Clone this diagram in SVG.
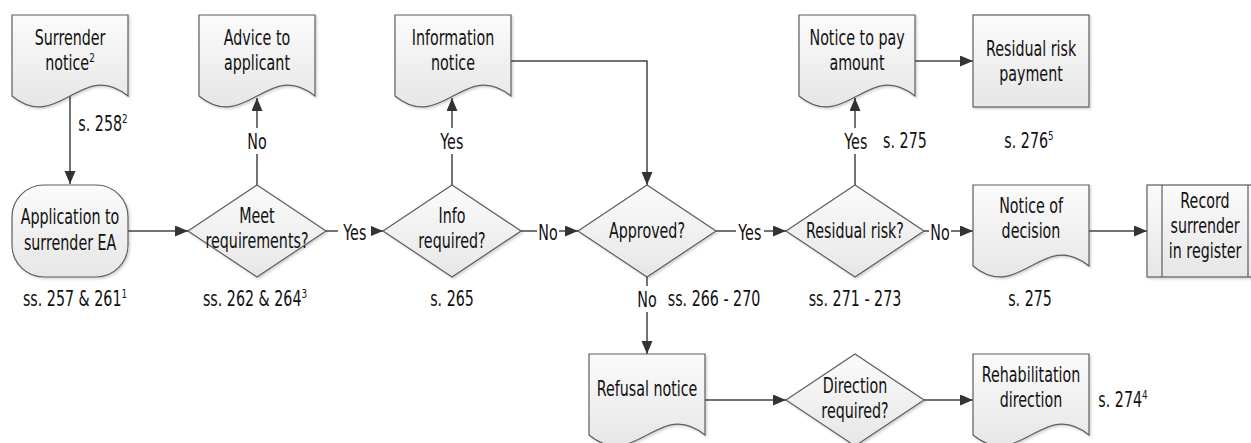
<svg xmlns="http://www.w3.org/2000/svg" width="1251" height="443" viewBox="0 0 1251 443">
<style>
text{font-family:"DejaVu Sans","Liberation Sans",sans-serif;font-size:21px;fill:#111;text-anchor:middle;transform-box:fill-box;transform-origin:center;transform:scaleX(0.68)}
.shape{fill:url(#g);stroke:#5e5e5e;stroke-width:1.2;filter:url(#sh)}
.inner{fill:none;stroke:#5e5e5e;stroke-width:1.2}
.con{fill:none;stroke:#444;stroke-width:1.5}
.arr{marker-end:url(#ah)}
.lb{fill:#fff;stroke:none}
.sup{font-size:13px}
</style>
<defs>
<linearGradient id="g" x1="0" y1="0" x2="0" y2="1">
<stop offset="0" stop-color="#fbfbfb"/>
<stop offset="1" stop-color="#e6e6e6"/>
</linearGradient>
<filter id="sh" x="-10%" y="-10%" width="130%" height="130%">
<feDropShadow dx="1.5" dy="1.5" stdDeviation="1" flood-color="#000" flood-opacity="0.18"/>
</filter>
<marker id="ah" markerUnits="userSpaceOnUse" markerWidth="14" markerHeight="12" refX="13" refY="5.5" orient="auto">
<path d="M0,0 L13,5.5 L0,11 Z" fill="#333"/>
</marker>
</defs>

<g id="connectors">
<path class="con arr" d="M70,96 V184"/>
<path class="con arr" d="M128,231 H188"/>
<path class="con arr" d="M257,185 V98"/>
<path class="con arr" d="M326,231 H383"/>
<path class="con arr" d="M452,185 V98"/>
<path class="con arr" d="M511,61 H647 V185"/>
<path class="con arr" d="M521,231 H578"/>
<path class="con arr" d="M716,231 H786"/>
<path class="con arr" d="M647,277 V354"/>
<path class="con arr" d="M855,185 V98"/>
<path class="con arr" d="M915,61 H973"/>
<path class="con arr" d="M924,231 H973"/>
<path class="con arr" d="M1089,231 H1147"/>
<path class="con arr" d="M705,400 H786"/>
<path class="con arr" d="M924,400 H973"/>
<rect class="lb" x="246" y="128" width="22" height="26"/>
<text x="257" y="149">No</text>
<rect class="lb" x="338" y="219" width="33" height="26"/>
<text x="355" y="240">Yes</text>
<rect class="lb" x="439" y="128" width="26" height="26"/>
<text x="452" y="149">Yes</text>
<rect class="lb" x="537" y="219" width="22" height="26"/>
<text x="548" y="240">No</text>
<rect class="lb" x="736" y="219" width="28" height="26"/>
<text x="750" y="240">Yes</text>
<rect class="lb" x="637" y="286" width="21" height="26"/>
<text x="647" y="307">No</text>
<rect class="lb" x="843" y="128" width="26" height="26"/>
<text x="856" y="149">Yes</text>
<rect class="lb" x="929" y="219" width="22" height="26"/>
<text x="940" y="240">No</text>
</g>

<g id="surrender-notice">
<path class="shape" d="M12,15 H128 V96 C81.6,58 58.4,134 12,96 Z"/>
<text x="70" y="45">Surrender</text>
<text x="70" y="70">notice<tspan class="sup" dy="-8">2</tspan></text>
</g>
<text x="103" y="131">s. 258<tspan class="sup" dy="-8">2</tspan></text>

<g id="application">
<rect class="shape" x="12" y="185" width="116" height="92" rx="32" ry="32"/>
<text x="70" y="224">Application to</text>
<text x="70" y="250">surrender EA</text>
</g>
<text x="75" y="306">ss. 257 &amp; 261<tspan class="sup" dy="-8">1</tspan></text>

<g id="advice">
<path class="shape" d="M199,15 H315 V96 C268.6,58 245.4,134 199,96 Z"/>
<text x="257" y="45">Advice to</text>
<text x="257" y="70">applicant</text>
</g>

<g id="meet-requirements">
<path class="shape" d="M257,185 L326,231 L257,277 L188,231 Z"/>
<text x="257" y="223">Meet</text>
<text x="257" y="248">requirements?</text>
</g>
<text x="255" y="306">ss. 262 &amp; 264<tspan class="sup" dy="-8">3</tspan></text>

<g id="information-notice">
<path class="shape" d="M395,15 H511 V96 C464.6,58 441.4,134 395,96 Z"/>
<text x="453" y="45">Information</text>
<text x="453" y="70">notice</text>
</g>

<g id="info-required">
<path class="shape" d="M452,185 L521,231 L452,277 L383,231 Z"/>
<text x="452" y="223">Info</text>
<text x="452" y="248">required?</text>
</g>
<text x="452" y="306">s. 265</text>

<g id="approved">
<path class="shape" d="M647,185 L716,231 L647,277 L578,231 Z"/>
<text x="647" y="238">Approved?</text>
</g>
<text x="714" y="306">ss. 266 - 270</text>

<g id="residual-risk">
<path class="shape" d="M855,185 L924,231 L855,277 L786,231 Z"/>
<text x="855" y="238">Residual risk?</text>
</g>
<text x="855" y="306">ss. 271 - 273</text>

<g id="notice-to-pay">
<path class="shape" d="M799,15 H915 V96 C868.6,58 845.4,134 799,96 Z"/>
<text x="857" y="45">Notice to pay</text>
<text x="857" y="70">amount</text>
</g>
<text x="905" y="148">s. 275</text>

<g id="residual-risk-payment">
<rect class="shape" x="973" y="15" width="116" height="92"/>
<text x="1031" y="56">Residual risk</text>
<text x="1031" y="81">payment</text>
</g>
<text x="1029" y="148">s. 276<tspan class="sup" dy="-8">5</tspan></text>

<g id="notice-of-decision">
<path class="shape" d="M973,185 H1089 V266 C1042.6,228 1019.4,304 973,266 Z"/>
<text x="1031" y="213">Notice of</text>
<text x="1031" y="238">decision</text>
</g>
<text x="1030" y="306">s. 275</text>

<g id="record-surrender">
<rect class="shape" x="1147" y="185" width="116" height="92"/>
<path class="inner" d="M1162,185 V277 M1248,185 V277"/>
<text x="1205" y="208">Record</text>
<text x="1205" y="233">surrender</text>
<text x="1205" y="258">in register</text>
</g>

<g id="refusal-notice">
<path class="shape" d="M589,354 H705 V435 C658.6,397 635.4,473 589,435 Z"/>
<text x="647" y="396">Refusal notice</text>
</g>

<g id="direction-required">
<path class="shape" d="M855,354 L924,400 L855,446 L786,400 Z"/>
<text x="855" y="393">Direction</text>
<text x="855" y="418">required?</text>
</g>

<g id="rehabilitation-direction">
<path class="shape" d="M973,354 H1089 V435 C1042.6,397 1019.4,473 973,435 Z"/>
<text x="1031" y="382">Rehabilitation</text>
<text x="1031" y="407">direction</text>
</g>
<text x="1123" y="407">s. 274<tspan class="sup" dy="-8">4</tspan></text>
</svg>
